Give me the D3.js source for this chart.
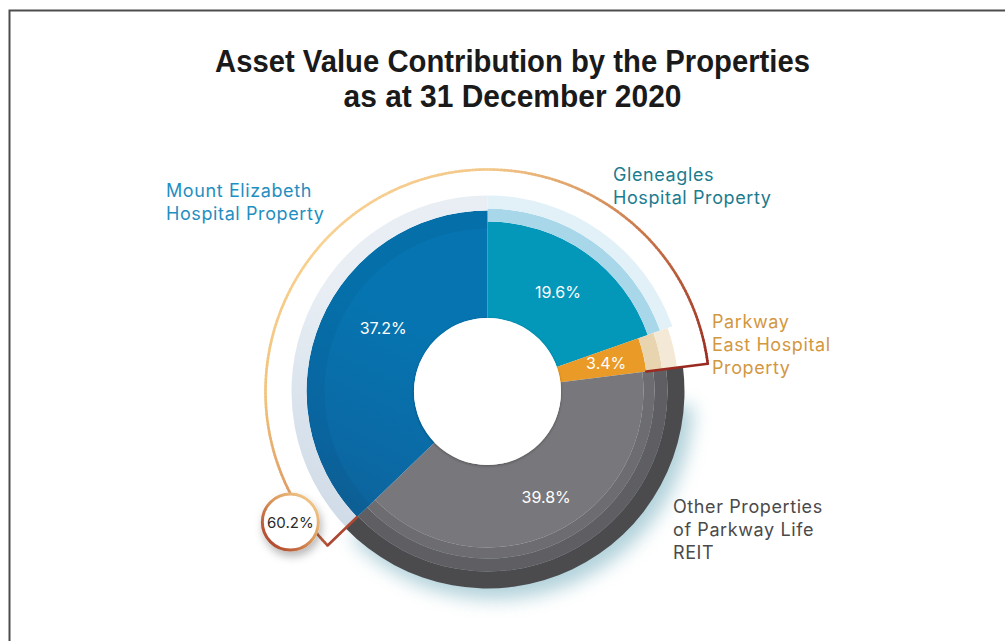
<!DOCTYPE html>
<html>
<head>
<meta charset="utf-8">
<script src="https://cdn.jsdelivr.net/npm/d3@7"></script>
<style>
html, body { margin: 0; padding: 0; background: #fff; }
svg { display: block; }
</style>
</head>
<body>
<svg id="chart" width="1005" height="641"></svg>
<script>
// ---- data ----
const titleLines = ["Asset Value Contribution by the Properties", "as at 31 December 2020"];
const categories = [
   "Gleneagles Hospital Property",
   "Parkway East Hospital Property",
   "Other Properties of Parkway Life REIT",
   "Mount Elizabeth Hospital Property"
];
const shares = [19.6, 3.4, 39.8, 37.2];
const labelLines = [
   ["Gleneagles", "Hospital Property"],
   ["Parkway", "East Hospital", "Property"],
   ["Other Properties", "of Parkway Life", "REIT"],
   ["Mount Elizabeth", "Hospital Property"]
];
const hospitalGroup = [
   "Mount Elizabeth Hospital Property",
   "Gleneagles Hospital Property",
   "Parkway East Hospital Property"
];

// ---- layout / style ----
const W = 1005, H = 641;
const cx = 487.5, cy = 391.5;
const rHole = 73.5;
const rOutline = 222;
const fontLabel = "Inter, 'Noto Sans', sans-serif";

// concentric bands per slice: [inner, outer, fill]
const bands = {
   "Gleneagles Hospital Property": [[rHole, 170, "#0397ba"], [170, 183, "#a8d7ea"], [183, 196, "#e2f0f7"]],
   "Parkway East Hospital Property": [[rHole, 160, "#ea9b27"], [160, 176, "#e8d5b0"], [176, 191, "#f4e9d6"]],
   "Other Properties of Parkway Life REIT": [[rHole, 156, "#78787c"], [156, 167, "#6d6d71"], [167, 180, "#5f5f63"], [180, 197, "#4b4b4e"]],
   "Mount Elizabeth Hospital Property": [[rHole, 181, "url(#gBlue)"], [163, 181, "rgba(0,30,60,0.06)"], [181, 196, "url(#gBluePale)"]]
};
const labelStyle = {
   "Gleneagles Hospital Property": { x: 613, y: 181, color: "#1b7b8f" },
   "Parkway East Hospital Property": { x: 712, y: 328, color: "#d3973f" },
   "Other Properties of Parkway Life REIT": { x: 673, y: 513, color: "#4a4a4c" },
   "Mount Elizabeth Hospital Property": { x: 166, y: 197, color: "#1f8fc1" }
};
// small nudges for the value labels
const valueNudge = {
   "Mount Elizabeth Hospital Property": [8, -16],
   "Other Properties of Parkway Life REIT": [6, -4]
};

const svg = d3.select("#chart");
const defs = svg.append("defs");

const gBlue = defs.append("linearGradient").attr("id", "gBlue")
   .attr("gradientUnits", "userSpaceOnUse")
   .attr("x1", 340).attr("y1", 520).attr("x2", 490).attr("y2", 215);
gBlue.append("stop").attr("offset", 0).attr("stop-color", "#15507e");
gBlue.append("stop").attr("offset", 0.6).attr("stop-color", "#0b69a4");
gBlue.append("stop").attr("offset", 1).attr("stop-color", "#0674b0");

const gBluePale = defs.append("linearGradient").attr("id", "gBluePale")
   .attr("gradientUnits", "userSpaceOnUse")
   .attr("x1", 340).attr("y1", 520).attr("x2", 490).attr("y2", 200);
gBluePale.append("stop").attr("offset", 0).attr("stop-color", "#bfcfdf");
gBluePale.append("stop").attr("offset", 1).attr("stop-color", "#e8eef4");

const gBadge = defs.append("linearGradient").attr("id", "gBadge")
   .attr("x1", 1).attr("y1", 0).attr("x2", 0).attr("y2", 1);
gBadge.append("stop").attr("offset", 0).attr("stop-color", "#f7d596");
gBadge.append("stop").attr("offset", 0.45).attr("stop-color", "#dc9a5e");
gBadge.append("stop").attr("offset", 1).attr("stop-color", "#a3321f");

const fBlur = defs.append("filter").attr("id", "fBlur")
   .attr("x", "-30%").attr("y", "-30%").attr("width", "160%").attr("height", "160%");
fBlur.append("feGaussianBlur").attr("stdDeviation", 9);

const fHole = defs.append("filter").attr("id", "fHole")
   .attr("x", "-20%").attr("y", "-20%").attr("width", "140%").attr("height", "140%");
fHole.append("feDropShadow").attr("dx", 0).attr("dy", 1).attr("stdDeviation", 1.5)
   .attr("flood-color", "#000").attr("flood-opacity", 0.3);

const fBadge = defs.append("filter").attr("id", "fBadge")
   .attr("x", "-50%").attr("y", "-50%").attr("width", "200%").attr("height", "200%");
fBadge.append("feDropShadow").attr("dx", 2).attr("dy", 5).attr("stdDeviation", 4)
   .attr("flood-color", "#000").attr("flood-opacity", 0.28);

// frame
svg.append("path")
   .attr("d", `M9.5,${H} V10.5 H${W}`)
   .attr("fill", "none")
   .attr("stroke", "#4d4d4d")
   .attr("stroke-width", 2);

// title
svg.append("g").selectAll("text")
   .data(titleLines)
   .enter()
   .append("text")
   .attr("x", 512.5)
   .attr("y", (d, i) => 72 + i * 35)
   .attr("text-anchor", "middle")
   .attr("textLength", (d, i) => (i === 0 ? 595 : 338))
   .attr("lengthAdjust", "spacingAndGlyphs")
   .style("font-family", "'Liberation Sans', Arial, sans-serif")
   .style("font-weight", "700")
   .style("font-size", "31px")
   .style("fill", "#1a1a1a")
   .text((d) => d);

// pie
const pie = d3.pie().sort(null).value((d) => d.value);
const arcs = pie(categories.map((c, i) => ({ name: c, value: shares[i] })));
const byName = {};
arcs.forEach((a) => (byName[a.data.name] = a));

const g = svg.append("g").attr("transform", `translate(${cx},${cy})`);

// soft shadow under the grey slice
const other = byName["Other Properties of Parkway Life REIT"];
g.append("path")
   .attr("transform", "translate(7,9)")
   .attr("d", d3.arc().innerRadius(150).outerRadius(199)
      .startAngle(other.startAngle + 0.15).endAngle(other.endAngle)())
   .attr("fill", "#7fb4c2")
   .attr("opacity", 0.6)
   .attr("filter", "url(#fBlur)");

// slices drawn as concentric bands
arcs.forEach((a) => {
   bands[a.data.name].forEach((b) => {
      g.append("path")
         .attr("d", d3.arc().innerRadius(b[0]).outerRadius(b[1])
            .startAngle(a.startAngle).endAngle(a.endAngle)())
         .attr("fill", b[2]);
   });
});

// hole
g.append("circle")
   .attr("r", rHole)
   .attr("fill", "#fff")
   .attr("filter", "url(#fHole)");

// value labels
const fmt = d3.format(".1f");
const labelArc = d3.arc().innerRadius(244).outerRadius(0);
g.selectAll(".val")
   .data(arcs)
   .enter()
   .append("text")
   .attr("class", "val")
   .attr("transform", (d) => {
      const c = labelArc.centroid(d);
      const n = valueNudge[d.data.name] || [0, 0];
      return `translate(${c[0] + n[0]},${c[1] + n[1]})`;
   })
   .attr("text-anchor", "middle")
   .attr("dy", "0.36em")
   .style("font-family", fontLabel)
   .style("font-size", "16px")
   .style("fill", "#fff")
   .text((d) => fmt(d.data.value) + "%");

// outline round the hospital group
const groupArcs = arcs.filter((a) => hospitalGroup.includes(a.data.name));
const blue = byName["Mount Elizabeth Hospital Property"];
const a0 = blue.startAngle - 2 * Math.PI;
const a1 = byName["Parkway East Hospital Property"].endAngle;
const groupTotal = d3.sum(groupArcs, (a) => a.data.value);

const tAt = d3.scaleLinear()
   .domain([0, 0.07, 0.2, 0.4, 0.62, 0.72, 0.83, 0.93, 1])
   .range(["#b5533a", "#dc9a62", "#f2c47c", "#f8d293", "#f3c88a", "#e1a56c", "#c87448", "#ad4a30", "#9a2a20"])
   .interpolate(d3.interpolateRgb);

const N = 240;
const step = (a1 - a0) / N;
const segs = d3.range(N).map((i) => ({ s: a0 + i * step, e: a0 + (i + 1) * step, t: (i + 0.5) / N }));
const polar = (r, a) => [r * Math.sin(a), -r * Math.cos(a)];
g.selectAll(".seg")
   .data(segs)
   .enter()
   .append("path")
   .attr("class", "seg")
   .attr("d", (d) => d3.line()([polar(rOutline, d.s), polar(rOutline, d.e + step * 0.3)]))
   .attr("fill", "none")
   .attr("stroke", (d) => tAt(d.t))
   .attr("stroke-width", 2.6);

g.append("path")
   .attr("d", d3.line()([polar(181, a0), polar(rOutline, a0)]))
   .attr("stroke", "#ad4731")
   .attr("stroke-width", 2.6)
   .attr("stroke-linecap", "round");
g.append("path")
   .attr("d", d3.line()([polar(160, a1), polar(rOutline, a1)]))
   .attr("stroke", "#9a2a20")
   .attr("stroke-width", 2.6)
   .attr("stroke-linecap", "round");

// badge with the group share
const badgeAngle = a0 + (10.4 * Math.PI) / 180;
const bp = polar(236.5, badgeAngle);
const badge = g.append("g").attr("transform", `translate(${bp[0]},${bp[1]})`);
badge.append("circle")
   .attr("r", 28)
   .attr("fill", "#fff")
   .attr("stroke", "url(#gBadge)")
   .attr("stroke-width", 3)
   .attr("filter", "url(#fBadge)");
badge.append("text")
   .attr("text-anchor", "middle")
   .attr("dy", "0.36em")
   .style("font-family", fontLabel)
   .style("font-size", "15px")
   .style("fill", "#2b2b2b")
   .text(fmt(groupTotal) + "%");

// category labels
categories.forEach((c, i) => {
   const s = labelStyle[c];
   svg.append("text")
      .attr("x", s.x)
      .attr("y", s.y)
      .style("font-family", fontLabel)
      .style("font-size", "18px")
      .style("letter-spacing", "0.6px")
      .style("fill", s.color)
      .selectAll("tspan")
      .data(labelLines[i])
      .enter()
      .append("tspan")
      .attr("x", s.x)
      .attr("dy", (l, j) => (j === 0 ? 0 : 23))
      .text((l) => l);
});
</script>
</body>
</html>
